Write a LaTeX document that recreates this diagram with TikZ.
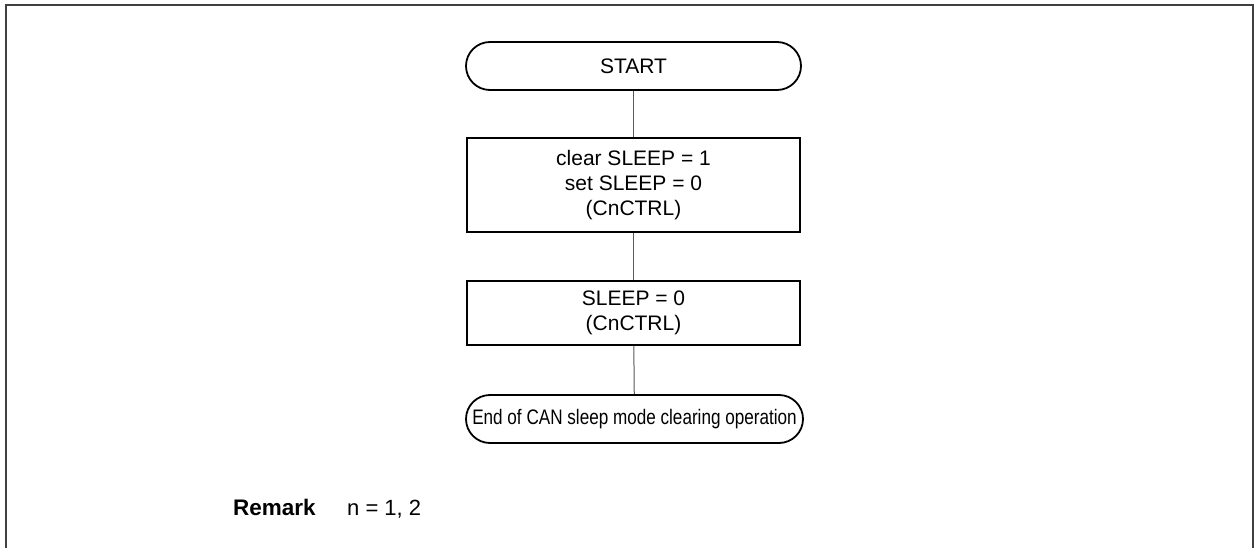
\documentclass[tikz,border=0pt]{standalone}
\usepackage{fontspec}
\setmainfont{Liberation Sans}
\usetikzlibrary{positioning}
\begin{document}
\begin{tikzpicture}[x=1pt,y=-1pt,
  txt/.style={font=\fontsize{21}{25}\selectfont, align=center},
  term/.style={txt, draw, line width=1.8pt, rounded corners=24pt, minimum width=335pt, minimum height=48pt, inner sep=0pt},
  proc/.style={txt, draw, line width=1.8pt, minimum width=333pt, inner sep=0pt},
  conn/.style={draw=black!65, line width=1pt}]
\useasboundingbox (0,0) rectangle (1255,548);
\draw[black!75, line width=2pt] (6,560) -- (6,5) -- (1253,5) -- (1253,560);
\node[term] (start) at (633.5,66) {START};
\node[proc, minimum height=94pt] (b1) at (633.5,185) {clear SLEEP = 1\\ set SLEEP = 0\\ (CnCTRL)};
\node[proc, minimum height=64pt] (b2) at (633.5,313) {SLEEP = 0\\ (CnCTRL)};
\node[term, minimum width=337pt] (end) at (634.5,419) {\scalebox{0.815}[1]{End of CAN sleep mode clearing operation}};
\draw[conn] (start) -- (b1);
\draw[conn] (b1) -- (b2);
\draw[conn] (b2) -- (end);
\node[anchor=base west, font=\fontsize{22.5}{27}\selectfont\bfseries, inner sep=0pt] (rem) at (233,515) {Remark};
\node[anchor=base west, font=\fontsize{22}{27}\selectfont, inner sep=0pt] (n) at (347,515) {n = 1, 2};
\end{tikzpicture}
\end{document}
